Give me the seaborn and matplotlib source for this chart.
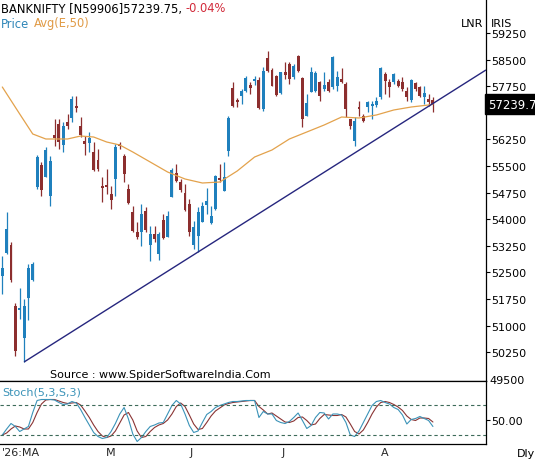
import numpy as np
import pandas as pd
import matplotlib
matplotlib.use("Agg")
import matplotlib.pyplot as plt
import seaborn as sns

# ---------------- data ----------------
opens = [52397, 53046, 53272, 51551, 51439, 50649, 51777, 52285, 54907, 55528,
         55189, 54653, 56374, 56684, 56092, 56740, 56853, 57191, 56627, 56204,
         56148, 55894, 55669, 54935, 54964, 54710, 55133, 56120, 55781, 54851,
         54202, 53638, 53638, 54230, 53272, 53582, 53018, 53977, 53497, 54625,
         55302, 55048, 54738, 54428, 53272, 53525, 53920, 54400, 53892, 54287,
         55161, 54794, 55922, 57699, 57361, 57473, 57614, 57784, 57896, 57925,
         57107, 58545, 58207, 58037, 57558, 58150, 58376, 58009, 58601, 57981,
         56909, 57586, 57614, 57868, 57671, 57868, 57727, 57755, 57953, 57812,
         56825, 56204, 57163, 56909, 57163, 57191, 57220, 57445, 58094, 57868,
         57868, 57896, 57868, 57614, 57361, 57840, 57727, 57445, 57389, 57361]
highs = [52961, 54202, 53356, 51636, 52059, 51749, 52736, 52792, 55810, 55612,
         56035, 55781, 56825, 56825, 56740, 56966, 57473, 57473, 56881, 56345,
         56458, 56176, 55979, 55189, 55415, 54935, 56120, 56176, 55838, 54992,
         54371, 53920, 54428, 54343, 53807, 53807, 53638, 54146, 54230, 55443,
         55556, 55133, 54992, 54569, 53948, 54343, 54484, 54879, 54371, 55245,
         55556, 55612, 56909, 57868, 57417, 57671, 58037, 57868, 58037, 58009,
         58291, 58742, 58263, 58066, 58150, 58432, 58432, 58376, 58630, 58009,
         57530, 58291, 58178, 57896, 58150, 57953, 58601, 58178, 58263, 57868,
         56825, 56881, 57332, 56966, 57332, 57332, 57445, 58291, 58150, 57953,
         58122, 57953, 58009, 57727, 57953, 57868, 57755, 57755, 57530, 57445]
lows = [51890, 53018, 52228, 50141, 51185, 49972, 51157, 52256, 54851, 54653,
        55189, 54371, 56063, 55979, 55894, 56543, 56740, 57022, 56317, 55810,
        55894, 55358, 55358, 54484, 54710, 54287, 54653, 55979, 55048, 54428,
        53638, 53441, 53243, 53638, 52820, 53356, 52849, 53441, 53497, 54625,
        55048, 54766, 54230, 53525, 53159, 53074, 53920, 54146, 53864, 54260,
        55048, 54794, 55781, 57163, 57163, 57248, 57586, 57530, 57784, 57107,
        57050, 58150, 57755, 57473, 57530, 57953, 57812, 57953, 58150, 56599,
        56909, 57586, 57586, 57332, 57614, 57586, 57671, 57614, 57840, 56881,
        56543, 56063, 56909, 56740, 57022, 56825, 57163, 57389, 57530, 57445,
        57812, 57727, 57614, 57332, 57304, 57614, 57445, 57248, 57191, 57022]
closes = [52623, 53723, 52285, 50282, 51495, 51551, 52623, 52736, 55753, 54823,
          55951, 55640, 56289, 56176, 56627, 56627, 57389, 57135, 56374, 56120,
          56289, 55387, 55415, 54879, 54907, 54541, 56035, 56063, 55274, 54456,
          53666, 53497, 54146, 53695, 53582, 53441, 53582, 53469, 54089, 55387,
          55076, 54823, 54259, 53638, 53779, 54202, 54371, 54512, 54089, 55217,
          55105, 55189, 56853, 57191, 57304, 57614, 57981, 57699, 57953, 57135,
          58178, 58178, 57755, 57502, 58150, 58066, 57953, 58319, 58178, 56825,
          57276, 58150, 58122, 57473, 57784, 57614, 58573, 58009, 57868, 57107,
          56627, 56768, 57107, 56768, 57304, 57248, 57332, 58263, 57896, 57727,
          58094, 57755, 57671, 57445, 57925, 57671, 57473, 57558, 57304, 57240]

ema_idx = [0, 4, 7, 10, 15, 18, 21, 24, 27, 30, 34, 38, 42, 46, 50, 54, 58,
           62, 66, 70, 74, 78, 82, 86, 90, 94, 98, 99]
ema_vals = [57727, 56966, 56402, 56261, 56261, 56345, 56317, 56176, 56092,
            55894, 55612, 55330, 55133, 55020, 55048, 55358, 55753, 55951,
            56261, 56458, 56656, 56881, 56853, 56938, 57079, 57163, 57220, 57240]

stoch_k = [20, 32, 43, 37, 27, 32, 37, 65, 89, 91, 91, 91, 90, 85, 81, 82, 87,
           84, 71, 55, 40, 25, 17, 13, 15, 27, 43, 62, 75, 52, 22, 7, 15, 27,
           37, 40, 44, 45, 62, 79, 89, 82, 62, 39, 25, 28, 45, 61, 67, 75, 79,
           82, 85, 87, 87, 88, 89, 89, 89, 55, 67, 62, 62, 49, 45, 43, 47, 55,
           64, 49, 33, 39, 55, 65, 64, 52, 62, 62, 60, 45, 20, 17, 28, 45, 62,
           79, 87, 89, 85, 82, 75, 71, 60, 42, 51, 53, 57, 53, 49, 37]
stoch_d = [20, 24, 32, 38, 36, 32, 32, 45, 65, 82, 90, 91, 91, 88, 85, 83, 84,
           85, 80, 68, 55, 40, 27, 18, 15, 18, 28, 44, 60, 65, 50, 28, 15, 17,
           27, 35, 40, 43, 50, 62, 77, 84, 77, 60, 42, 31, 33, 45, 58, 68, 74,
           80, 83, 85, 86, 87, 88, 89, 89, 77, 70, 62, 64, 58, 52, 46, 45, 48,
           55, 56, 49, 40, 42, 53, 61, 60, 59, 59, 61, 56, 42, 27, 22, 30, 45,
           62, 76, 85, 87, 85, 81, 76, 69, 58, 51, 49, 54, 54, 53, 46]

price_ticks = [59250, 58500, 57750, 57000, 56250, 55500, 54750, 54000, 53250,
               52500, 51750, 51000, 50250]
price_labels = ["59250", "58500", "57750", "", "56250", "55500", "54750",
                "54000", "53250", "52500", "51750", "51000", "50250"]
month_pos = [0, 25, 43.5, 64.5, 88]
month_labels = ["'26:MA", "M", "J", "J", "A"]
last_price_label = "57239.7"

# ---------------- style ----------------
sns.set_style("white")
plt.rcParams['font.family'] = ['DejaVu Sans']

BLUE = '#1f80bd'
RED = '#8c2e2e'
W, H = 535, 460

fig = plt.figure(figsize=(W / 100, H / 100), dpi=100)
ax1 = fig.add_axes([0, 1 - 382 / H, 486 / W, 382 / H])
ax2 = fig.add_axes([0, 1 - 445 / H, 486 / W, 63 / H])

n = len(opens)
idx = np.arange(n)
o = np.array(opens, float)
c = np.array(closes, float)
hi = np.array(highs, float)
lo = np.array(lows, float)
up = c >= o
cols = np.where(up, BLUE, RED)

# wicks
ax1.vlines(idx, lo, hi, colors=cols, linewidth=0.9, zorder=2)
# bodies
bottom = np.minimum(o, c)
height = np.maximum(np.abs(c - o), 25)
ax1.bar(idx, height, bottom=bottom, width=0.68, color=cols, linewidth=0, zorder=3)

# EMA 50
ema_df = pd.DataFrame({'i': ema_idx, 'v': ema_vals})
sns.lineplot(data=ema_df, x='i', y='v', ax=ax1, color='#e3a24c', linewidth=0.9,
             zorder=4)

# trend line from the two lows
i0, i1 = 5, 45
slope = (lows[i1] - lows[i0]) / (i1 - i0)
xr = 111.2
ax1.plot([i0, xr], [lows[i0], lows[i0] + slope * (xr - i0)], color='#26267e',
         linewidth=1.0, zorder=5, solid_capstyle='butt')

ax1.set_xlim(-0.53, xr)
ax1.set_ylim(49436, 60209)
ax1.set_xlabel('')
ax1.set_ylabel('')
ax1.set_xticks([])
ax1.yaxis.tick_right()
ax1.set_yticks(price_ticks)
ax1.set_yticklabels(price_labels)
ax1.tick_params(axis='y', direction='out', length=3, width=0.8, labelsize=8,
                pad=1, colors='black')
for s in ['left', 'top']:
    ax1.spines[s].set_visible(False)
for s in ['right', 'bottom']:
    ax1.spines[s].set_visible(True)
    ax1.spines[s].set_color('black')
    ax1.spines[s].set_linewidth(0.9)

# last price box
ax1.text(1.004, closes[-1], last_price_label, transform=ax1.get_yaxis_transform(),
         color='white', fontsize=8.5, va='center', ha='left', clip_on=False,
         zorder=10,
         bbox=dict(boxstyle='square,pad=0.28', facecolor='black', edgecolor='black'))

# ---------------- stochastic ----------------
st = pd.DataFrame({'i': idx, 'k': stoch_k, 'd': stoch_d})
sns.lineplot(data=st, x='i', y='d', ax=ax2, color='#8a3434', linewidth=0.8)
sns.lineplot(data=st, x='i', y='k', ax=ax2, color='#3b93b8', linewidth=0.8)
for lvl in (80, 20):
    ax2.axhline(lvl, color='#3d6b5a', linewidth=0.8, linestyle=(0, (3, 2.5)))
ax2.set_xlim(-0.53, xr)
ax2.set_ylim(2, 128)
ax2.set_xlabel('')
ax2.set_ylabel('')
ax2.yaxis.tick_right()
ax2.set_yticks([50])
ax2.set_yticklabels(['50.00'])
ax2.tick_params(axis='y', direction='out', length=3, width=0.8, labelsize=8,
                pad=1, colors='black')
ax2.set_xticks(month_pos)
ax2.set_xticklabels(month_labels)
ax2.tick_params(axis='x', length=0, labelsize=8, pad=2)
for lab in ax2.get_xticklabels()[:1]:
    lab.set_ha('left')
ax2.spines['left'].set_visible(False)
for s in ['right', 'bottom', 'top']:
    ax2.spines[s].set_visible(True)
    ax2.spines[s].set_color('black')
    ax2.spines[s].set_linewidth(0.9)

# ---------------- texts ----------------
def px(x, y):
    return x / W, 1 - y / H

fig.text(*px(1, 12.5), "BANKNIFTY [N59906]57239.75,", fontsize=8.3,
         color='black', va='baseline', ha='left')
fig.text(*px(186, 12.5), "-0.04%", fontsize=8.3, color='#d22a3a',
         va='baseline', ha='left')
fig.text(*px(1, 27.5), "Price", fontsize=8.3, color='#2f86b8', va='baseline',
         ha='left')
fig.text(*px(34, 27.5), "Avg(E,50)", fontsize=8.3, color='#e09a45',
         va='baseline', ha='left')
fig.text(*px(483, 27), "LNR", fontsize=8, color='black', va='baseline',
         ha='right')
fig.text(*px(491, 27), "IRIS", fontsize=8, color='black', va='baseline',
         ha='left')
fig.text(*px(50, 378), "Source : www.SpiderSoftwareIndia.Com", fontsize=8,
         color='black', va='baseline', ha='left')
fig.text(*px(489, 384), "49500", fontsize=8, color='black', va='baseline',
         ha='left')
fig.text(*px(2, 395.5), "Stoch(5,3,S,3)", fontsize=8, color='#3b93b8',
         va='baseline', ha='left')
fig.text(*px(517, 457), "Dly", fontsize=8, color='black', va='baseline',
         ha='left')

fig.savefig('out.png', dpi=100, facecolor='white')
